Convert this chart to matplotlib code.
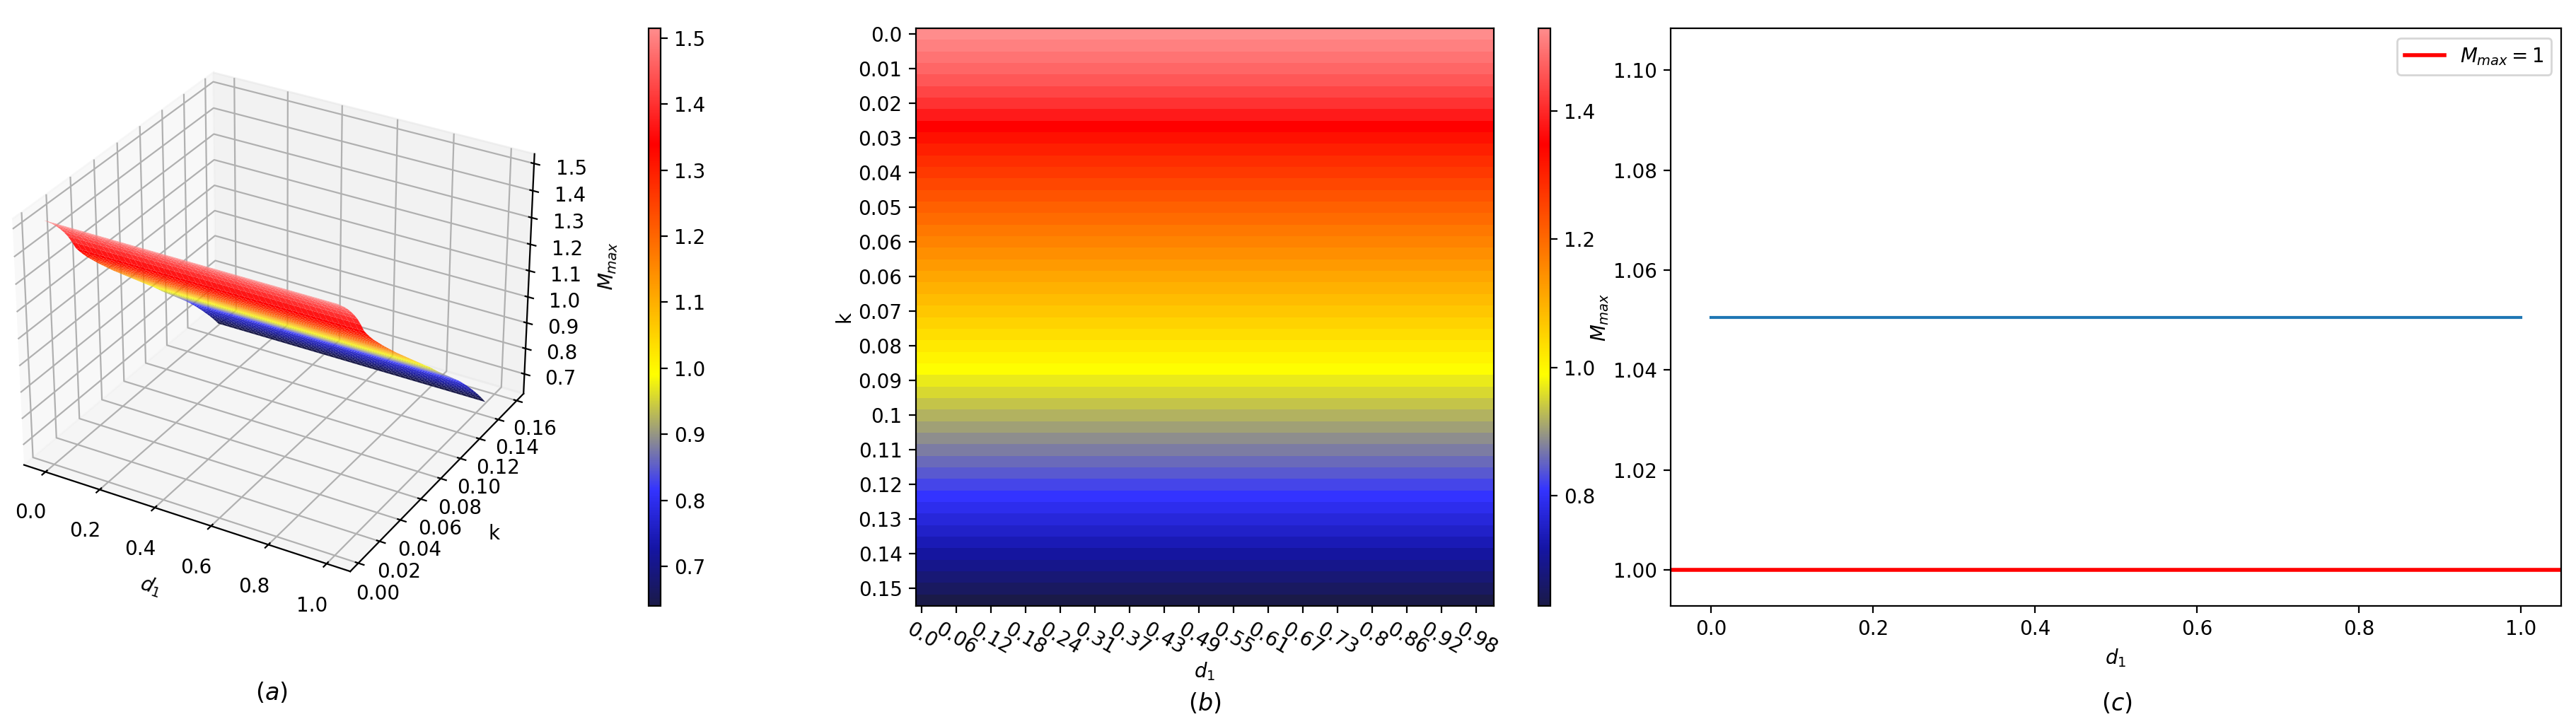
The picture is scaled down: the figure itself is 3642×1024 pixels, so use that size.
import numpy as np
import matplotlib
matplotlib.use("Agg")
import matplotlib.pyplot as plt
from matplotlib.colors import LinearSegmentedColormap, Normalize
from matplotlib.cm import ScalarMappable

W, H, DPI = 3642, 1024, 200

d1_values = np.linspace(0, 1, 50)
k_values = np.linspace(0, 0.15, 50)
# M_max (constant along d1)
m_max_by_k = [1.529, 1.513, 1.497, 1.479, 1.459, 1.437, 1.412, 1.382, 1.349, 1.326,
              1.305, 1.285, 1.267, 1.249, 1.231, 1.214, 1.197, 1.180, 1.163, 1.147,
              1.131, 1.115, 1.099, 1.083, 1.067, 1.051, 1.035, 1.019, 1.003, 0.988,
              0.971, 0.954, 0.937, 0.921, 0.905, 0.889, 0.873, 0.857, 0.841, 0.825,
              0.808, 0.790, 0.772, 0.753, 0.734, 0.714, 0.694, 0.673, 0.651, 0.628]
m_max_line = [1.0505, 1.0505]
line_d1 = [0.0, 1.0]
threshold = 1.0
x_tick_labels = ['0.0', '0.06', '0.12', '0.18', '0.24', '0.31', '0.37', '0.43', '0.49',
                 '0.55', '0.61', '0.67', '0.73', '0.8', '0.86', '0.92', '0.98']
y_tick_labels = ['0.0', '0.01', '0.02', '0.03', '0.04', '0.05', '0.06', '0.06', '0.07',
                 '0.08', '0.09', '0.1', '0.11', '0.12', '0.13', '0.14', '0.15']
cmap_nodes = [0.0, 0.1, 0.2, 0.4, 0.8, 1.0]
cmap_colors = ['#1a1a48', '#1515a5', '#3333ff', '#ffff00', '#ff0000', '#ff8c8c']

cmap = LinearSegmentedColormap.from_list('m', list(zip(cmap_nodes, cmap_colors)), N=512)
Z = np.tile(np.array(m_max_by_k)[:, None], (1, 50))


def rect(x0, y0, x1, y1):
    return [x0 / W, 1 - y1 / H, (x1 - x0) / W, (y1 - y0) / H]


fig = plt.figure(figsize=(W / DPI, H / DPI), dpi=DPI)

# (a)
ax = fig.add_axes(rect(-38, 39, 803, 860), projection='3d')
X, Y = np.meshgrid(d1_values, k_values)
ax.plot_surface(X, Y, Z, cmap=cmap, rstride=1, cstride=1, linewidth=0, antialiased=True,
                vmin=0.64, vmax=1.515)
ax.set_xticks([0, .2, .4, .6, .8, 1.0])
ax.set_yticks(np.arange(0, 0.17, 0.02))
ax.set_zticks(np.arange(0.7, 1.51, 0.1))
ax.set_xlim(-0.08, 1.08)
ax.set_ylim(-0.0075, 0.1675)
ax.set_zlim(0.622, 1.535)
ax.tick_params(axis='y', pad=1)
ax.set_xlabel('$d_1$')
ax.set_ylabel('k')
ax.set_zlabel('$M_{max}$')
cax = fig.add_axes(rect(917, 40, 934, 857))
cb = fig.colorbar(ScalarMappable(Normalize(0.64, 1.515), cmap), cax=cax)
cb.set_ticks(np.arange(0.7, 1.51, 0.1))
fig.text(384 / W, 1 - 980 / H, '$(a)$', ha='center', va='center', fontsize=12)

# (b)
ax = fig.add_axes(rect(1295, 40, 2112, 857))
mesh = ax.pcolormesh(np.arange(51), np.arange(51), Z, cmap=cmap, vmin=0.628, vmax=1.529)
ax.set_ylim(50, 0)
ax.set_xticks(np.arange(0, 50, 3) + 0.5)
ax.set_xticklabels(x_tick_labels, rotation=-30)
ax.set_yticks(np.arange(0, 50, 3) + 0.5)
ax.set_yticklabels(y_tick_labels)
ax.set_xlabel('$d_1$', labelpad=1)
ax.set_ylabel('k', labelpad=2)
cax = fig.add_axes(rect(2175, 40, 2192, 857))
cb = fig.colorbar(mesh, cax=cax)
cb.set_ticks([0.8, 1.0, 1.2, 1.4])
cb.set_label('$M_{max}$', labelpad=-3)
fig.text(1703 / W, 1 - 995 / H, '$(b)$', ha='center', va='center', fontsize=12)

# (c)
ax = fig.add_axes(rect(2362, 40, 3621, 857))
ax.plot(line_d1, m_max_line, color='#1f77b4')
ax.axhline(threshold, color='red', linewidth=2, label='$M_{max}=1$')
ax.set_xlim(-0.05, 1.05)
ax.set_ylim(0.9928, 1.1084)
ax.set_yticks(np.arange(1.0, 1.101, 0.02))
ax.set_xlabel('$d_1$')
ax.legend(loc='upper right')
fig.text(2993 / W, 1 - 995 / H, '$(c)$', ha='center', va='center', fontsize=12)

fig.savefig('out.png', dpi=DPI)
